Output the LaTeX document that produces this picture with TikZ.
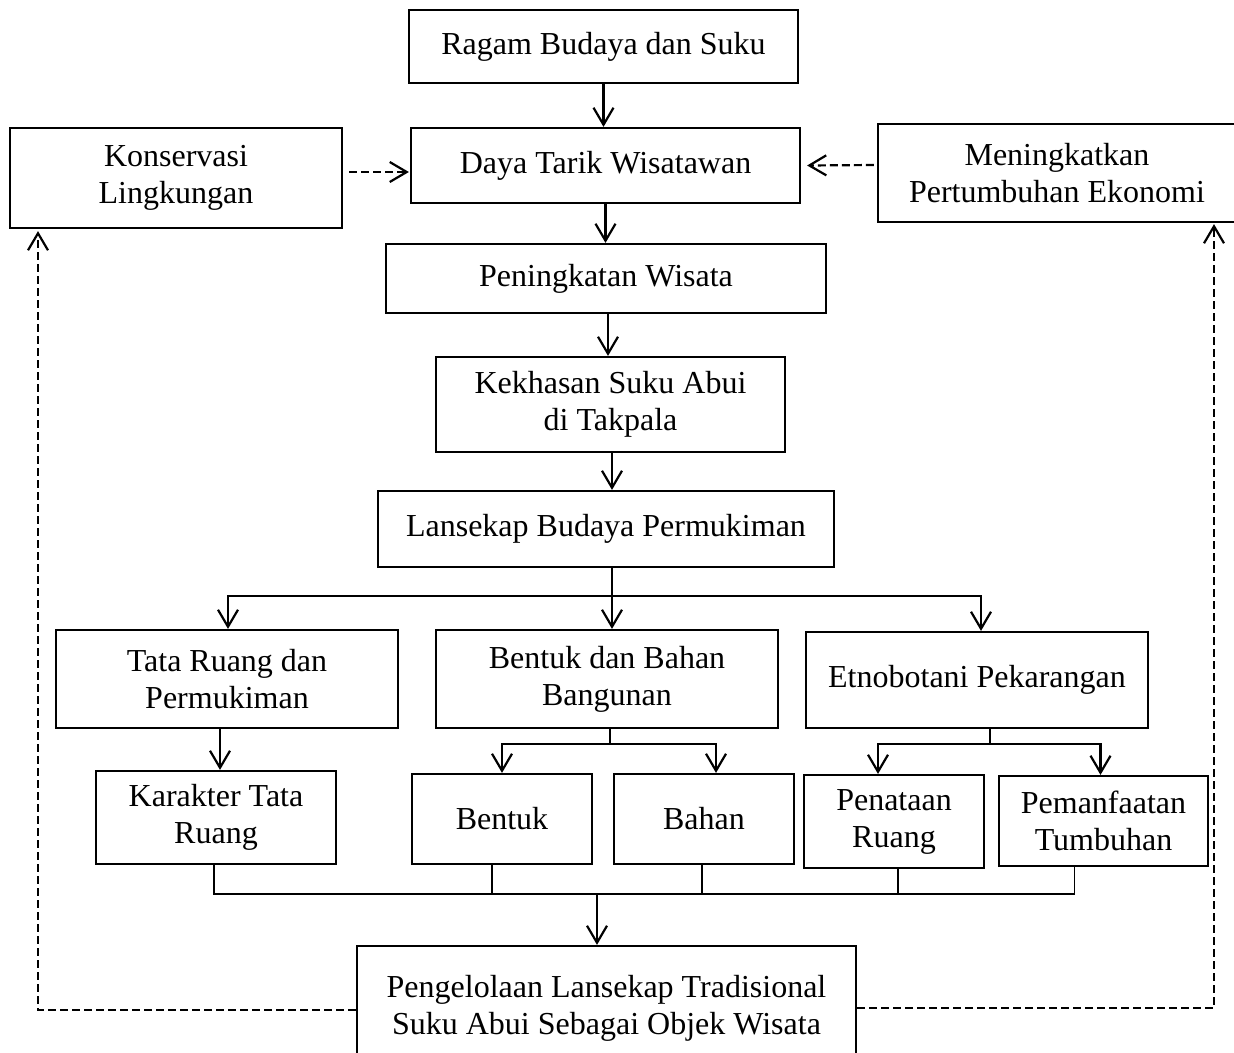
\documentclass[tikz,border=0pt]{standalone}
\usepackage{fontspec}
\setmainfont{Liberation Serif}
\usetikzlibrary{arrows.meta}

\begin{document}
\begin{tikzpicture}[x=1pt, y=-1pt, line width=2.2pt,
    >={Straight Barb[length=17pt, width=20pt]},
    box/.style={draw, rectangle, line width=2.2pt, align=center, inner sep=0pt,
        font=\fontsize{32}{37}\selectfont},
    thinline/.style={line width=1.6pt},
    feedback/.style={->, dash pattern=on 8pt off 4pt}]
    \useasboundingbox (0,0) rectangle (1234,1052);
    % main column
    \node[box, minimum width=389pt, minimum height=73pt] (Ragam) at (603.5,46.5) {Ragam Budaya dan Suku};
    \node[box, minimum width=389pt, minimum height=75pt] (Daya) at (605.5,165.5) {Daya Tarik Wisatawan};
    \node[box, minimum width=332pt, minimum height=100pt] (Konservasi) at (176,178) {Konservasi\\Lingkungan};
    \node[box, minimum width=358pt, minimum height=98pt] (Meningkatkan) at (1057,173) {Meningkatkan\\Pertumbuhan Ekonomi};
    \node[box, minimum width=440pt, minimum height=69pt] (Peningkatan) at (606,278.5) {Peningkatan Wisata};
    \node[box, minimum width=349pt, minimum height=95pt] (Kekhasan) at (610.5,404.5) {Kekhasan Suku Abui\\di Takpala};
    \node[box, minimum width=456pt, minimum height=76pt] (Lansekap) at (606,529) {Lansekap Budaya Permukiman};
    % three aspects
    \node[box, minimum width=342pt, minimum height=98pt] (Tata) at (227,679) {Tata Ruang dan\\Permukiman};
    \node[box, minimum width=342pt, minimum height=98pt] (BdB) at (607,679) {Bentuk dan Bahan\\Bangunan};
    \node[box, minimum width=342pt, minimum height=96pt] (Etno) at (977,680) {Etnobotani Pekarangan};
    % sub aspects
    \node[box, minimum width=240pt, minimum height=93pt] (Karakter) at (216,817.5) {Karakter Tata\\Ruang};
    \node[box, minimum width=180pt, minimum height=90pt] (Bentuk) at (502,819) {Bentuk};
    \node[box, minimum width=180pt, minimum height=90pt] (Bahan) at (704,819) {Bahan};
    \node[box, minimum width=180pt, minimum height=93pt] (Penataan) at (894,821.5) {Penataan\\Ruang};
    \node[box, minimum width=209pt, minimum height=90pt] (Pemanfaatan) at (1103.5,821) {Pemanfaatan\\Tumbuhan};
    \node[box, minimum width=499pt, minimum height=124pt] (Pengelolaan) at (606.5,1008) {Pengelolaan Lansekap Tradisional\\Suku Abui Sebagai Objek Wisata};
    \coordinate (LSplit) at (612,596);
    \coordinate (BSplit) at (610,744);
    \coordinate (ESplit) at (990,744);
    \coordinate (Join) at (597,894);
    % arrows
    \draw[->] (Ragam.south) -- (Ragam.south |- Daya.north);
    \draw[->] (Daya.south) -- (Daya.south |- Peningkatan.north);
    \draw[->] ([xshift=2pt]Peningkatan.south) -- ([xshift=2pt]Peningkatan.south |- Kekhasan.north);
    \draw[->] ([xshift=1.5pt]Kekhasan.south) -- ([xshift=1.5pt]Kekhasan.south |- Lansekap.north);
    \draw (Lansekap.south -| LSplit) -- (LSplit);
    \draw[->] (LSplit) -| ([xshift=1pt]Tata.north);
    \draw[->] (LSplit) -- (LSplit |- BdB.north);
    \draw[->] (LSplit) -| ([xshift=4pt]Etno.north);
    \draw[->] ([xshift=-7pt]Tata.south) -- ([xshift=-7pt]Tata.south |- Karakter.north);
    \draw (BdB.south -| BSplit) -- (BSplit);
    \draw[->] (BSplit) -| (Bentuk.north);
    \draw[->] (BSplit) -| ([xshift=12pt]Bahan.north);
    \draw (Etno.south -| ESplit) -- (ESplit);
    \draw[->] (ESplit) -| ([xshift=-16pt]Penataan.north);
    \draw[->] (ESplit) -| ([xshift=-3pt]Pemanfaatan.north);
    % collector
    \draw[thinline] ([xshift=-2pt]Karakter.south) |- (Join);
    \draw[thinline] ([xshift=-10pt]Bentuk.south) |- (Join);
    \draw[thinline] ([xshift=-2pt]Bahan.south) |- (Join);
    \draw[thinline] ([xshift=4pt]Penataan.south) |- (Join);
    \draw[thinline] ([xshift=-29pt]Pemanfaatan.south) |- (Join);
    \draw[->] (Join) -- (Join |- Pengelolaan.north);
    % feedback loops
    \draw[feedback] ([xshift=6pt, yshift=6pt]Konservasi.east) -- ([xshift=-1pt, yshift=-6.5pt]Daya.west);
    \draw[feedback] ([xshift=-3pt, yshift=8pt]Meningkatkan.west) -- ([xshift=6pt]Daya.east);
    \draw[feedback] ([yshift=-2pt]Pengelolaan.west) -| ([xshift=-138pt, yshift=-2pt]Konservasi.south);
    \draw[feedback] (Pengelolaan.east) -| ([xshift=157pt, yshift=-1pt]Meningkatkan.south);
\end{tikzpicture}
\end{document}
